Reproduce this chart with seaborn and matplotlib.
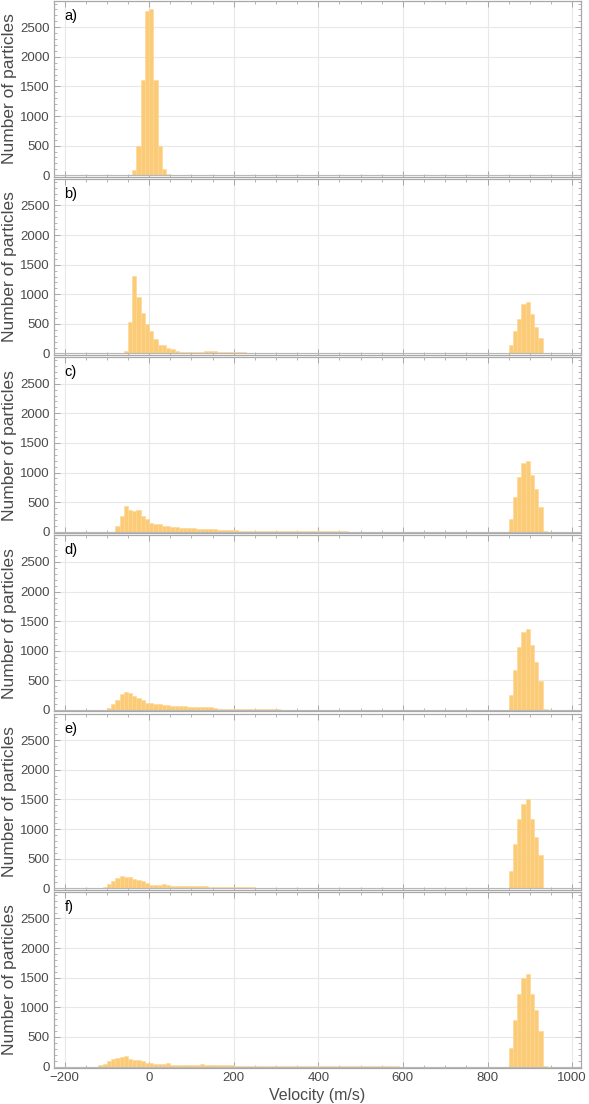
import numpy as np
import pandas as pd
import matplotlib
matplotlib.use("Agg")
import matplotlib.pyplot as plt
import seaborn as sns
from matplotlib.ticker import MultipleLocator

# ---------------- data (counts per 10 m/s bin) ----------------
panel_labels = ["a)", "b)", "c)", "d)", "e)", "f)"]
bin_width = 10

left_start = [-40, -60, -80, -100, -110, -120]
left_a = [95, 500, 1615, 2780, 2800, 1600, 490, 100, 15]
left_b = [45, 525, 1305, 960, 690, 500, 373, 243, 147, 140, 90, 68, 45, 33, 30, 28, 27, 28, 30, 50,
          38, 35, 33, 30, 28, 25, 22, 20, 18, 16, 15, 14, 12, 11, 10, 9, 9, 8, 8, 7, 6, 6, 5, 5, 5,
          4, 4, 4, 3, 3, 3, 3, 2, 2, 3, 2, 2, 1, 2, 1, 2, 1, 1, 1, 0, 1, 0, 1]
left_c = [103, 259, 443, 375, 350, 360, 259, 213, 144, 126, 126, 98, 98, 86, 86, 63, 63, 63, 63, 46,
          46, 46, 46, 40, 29, 29, 29, 29, 25, 17, 17, 17, 17, 17, 17, 17, 17, 12, 10, 10, 10, 10, 10,
          9, 9, 8, 8, 8, 14, 7, 6, 6, 5, 5, 5, 4, 4, 4, 3, 3, 3, 3, 2, 2, 2, 2, 2, 1, 1, 1]
left_d = [40, 102, 170, 267, 307, 284, 239, 199, 170, 125, 125, 97, 97, 80, 80, 62, 62, 62, 74, 45,
          45, 45, 45, 45, 45, 40, 23, 23, 23, 23, 11, 11, 11, 11, 11, 11, 11, 11, 11, 11, 11, 8, 8,
          7, 7, 6, 6, 5, 5, 5, 4, 4, 4, 3, 3, 3, 3, 2, 2, 2, 2, 1, 1, 1, 1]
left_e = [29, 76, 118, 165, 206, 194, 182, 153, 135, 118, 88, 59, 59, 59, 65, 47, 45, 43, 41, 39, 37,
          35, 33, 31, 30, 29, 29, 18, 18, 18, 18, 18, 18, 18, 18, 18, 10, 9, 9, 8, 8, 8, 7, 7, 7, 6,
          6, 6, 5, 5, 5, 5, 4, 4, 4, 4, 3, 3, 3, 3, 3, 2, 2, 2, 2, 2, 2, 1, 1, 1, 1, 1]
left_f = [23, 45, 91, 131, 148, 159, 182, 131, 114, 102, 85, 62, 62, 45, 45, 45, 57, 34, 34, 34, 34,
          34, 34, 34, 40, 23, 23, 23, 23, 23, 23, 23, 17, 17, 17, 17, 17, 17, 17, 17, 17, 17, 17, 10,
          9, 9, 8, 8, 8, 7, 7, 7, 6, 6, 6, 5, 5, 5, 5, 4, 4, 4, 4, 3, 3, 3, 3, 2, 2, 2, 2]

right_start = 850
right_a = []
right_b = [144, 385, 586, 828, 862, 672, 454, 259, 10]
right_c = [213, 590, 927, 1163, 1197, 955, 719, 421, 10]
right_d = [260, 668, 1064, 1319, 1375, 1092, 809, 498, 10]
right_e = [298, 747, 1163, 1421, 1500, 1163, 871, 562, 11]
right_f = [310, 778, 1229, 1500, 1568, 1229, 959, 592, 17]

left_all = [left_a, left_b, left_c, left_d, left_e, left_f]
right_all = [right_a, right_b, right_c, right_d, right_e, right_f]

x_ticks = [-200, 0, 200, 400, 600, 800, 1000]
y_ticks = [0, 500, 1000, 1500, 2000, 2500]

# ---------------- style ----------------
sns.set_theme(style="white")
plt.rcParams["font.family"] = ["Liberation Sans", "DejaVu Sans"]

bar_color = "#FCCB78"
edge_color = "#FDD795"
frame_color = "#A8A8A8"
grid_color = "#E8E8E8"
text_color = "#4A4A4A"

fig, axes = plt.subplots(6, 1, figsize=(5.89, 11.04), dpi=100, sharex=True)
fig.subplots_adjust(left=54 / 589, right=581 / 589, top=0.9995, bottom=1 - 1068 / 1104,
                    hspace=0.012)

edges = [float(e) for e in np.arange(-250, 1000 + bin_width, bin_width)]

for i, ax in enumerate(axes):
    xs, ws = [], []
    for k, c in enumerate(left_all[i]):
        xs.append(left_start[i] + bin_width * k + bin_width / 2)
        ws.append(c)
    for k, c in enumerate(right_all[i]):
        xs.append(right_start + bin_width * k + bin_width / 2)
        ws.append(c)
    df = pd.DataFrame({"v": xs, "n": ws})
    sns.histplot(data=df, x="v", weights="n", bins=edges, ax=ax, color=bar_color,
                 alpha=1.0, edgecolor=edge_color, linewidth=0.4, zorder=2)

    ax.set_xlim(-225, 1021)
    ax.set_ylim(-25, 2950)
    ax.set_xticks(x_ticks)
    ax.set_yticks(y_ticks)
    ax.xaxis.set_minor_locator(MultipleLocator(50))
    ax.yaxis.set_minor_locator(MultipleLocator(100))
    ax.grid(True, which="major", color=grid_color, linewidth=0.8, zorder=0)
    ax.set_axisbelow(True)
    ax.axhline(0, color="#B8B8B8", linewidth=0.8, zorder=3)
    for sp in ax.spines.values():
        sp.set_color(frame_color)
        sp.set_linewidth(0.9)
        sp.set_visible(True)
    ax.tick_params(which="both", direction="in", top=True, right=True, bottom=True, left=True,
                   color=frame_color, labelcolor=text_color, labelsize=9.5, pad=3)
    ax.tick_params(which="major", length=4, width=0.7)
    ax.tick_params(which="minor", length=2, width=0.6)
    ax.set_ylabel("Number of particles", fontsize=12.5, color=text_color, labelpad=2)
    ax.set_xlabel("")
    ax.text(0.02, 0.915, panel_labels[i], transform=ax.transAxes, fontsize=10.5,
            color="black", ha="left", va="center")
    if i < 5:
        ax.tick_params(labelbottom=False)

axes[-1].set_xlabel("Velocity (m/s)", fontsize=11.5, color=text_color, labelpad=3)

fig.savefig("out.png", dpi=100)
